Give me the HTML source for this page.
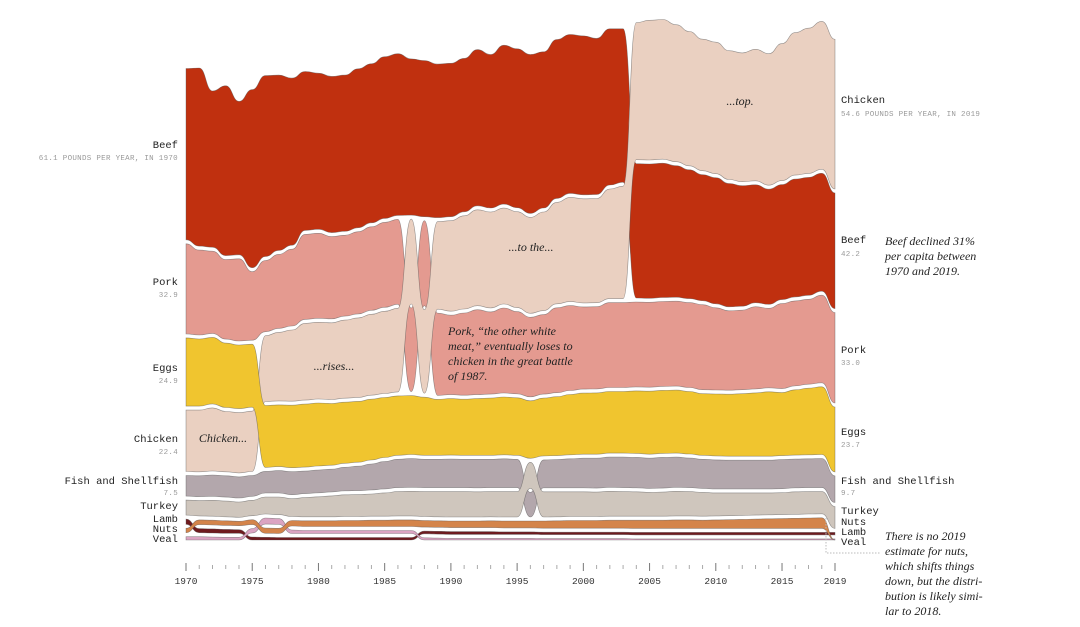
<!DOCTYPE html>
<html><head><meta charset="utf-8">
<style>
html,body{margin:0;padding:0;background:#fff;}
svg{display:block;}
.lab{font-family:"Liberation Mono","DejaVu Sans Mono",monospace;font-size:10.5px;fill:#222;}
.sub{font-family:"Liberation Mono","DejaVu Sans Mono",monospace;font-size:7.5px;fill:#999;letter-spacing:.3px;}
.ann{font-family:"Liberation Serif","DejaVu Serif",serif;font-style:italic;font-size:12px;fill:#222;}
.tick{font-family:"Liberation Mono","DejaVu Sans Mono",monospace;font-size:9.5px;fill:#333;}
</style></head>
<body>
<svg id="chart" width="1080" height="627" viewBox="0 0 1080 627">
<g id="bands"></g>
<g id="axis"></g>
<g>
<text class="lab" x="178" y="148" text-anchor="end">Beef</text>
<text class="sub" x="178" y="160" text-anchor="end">61.1 POUNDS PER YEAR, IN 1970</text>
<text class="lab" x="178" y="285" text-anchor="end">Pork</text>
<text class="sub" x="178" y="297" text-anchor="end">32.9</text>
<text class="lab" x="178" y="371" text-anchor="end">Eggs</text>
<text class="sub" x="178" y="383" text-anchor="end">24.9</text>
<text class="lab" x="178" y="442" text-anchor="end">Chicken</text>
<text class="sub" x="178" y="454" text-anchor="end">22.4</text>
<text class="lab" x="178" y="484" text-anchor="end">Fish and Shellfish</text>
<text class="sub" x="178" y="495" text-anchor="end">7.5</text>
<text class="lab" x="178" y="509" text-anchor="end">Turkey</text>
<text class="lab" x="178" y="522" text-anchor="end">Lamb</text>
<text class="lab" x="178" y="532" text-anchor="end">Nuts</text>
<text class="lab" x="178" y="542" text-anchor="end">Veal</text>
</g>
<g>
<text class="lab" x="841" y="103">Chicken</text>
<text class="sub" x="841" y="116">54.6 POUNDS PER YEAR, IN 2019</text>
<text class="lab" x="841" y="243">Beef</text>
<text class="sub" x="841" y="256">42.2</text>
<text class="lab" x="841" y="353">Pork</text>
<text class="sub" x="841" y="365">33.0</text>
<text class="lab" x="841" y="435">Eggs</text>
<text class="sub" x="841" y="447">23.7</text>
<text class="lab" x="841" y="484">Fish and Shellfish</text>
<text class="sub" x="841" y="495">9.7</text>
<text class="lab" x="841" y="514">Turkey</text>
<text class="lab" x="841" y="525">Nuts</text>
<text class="lab" x="841" y="535">Lamb</text>
<text class="lab" x="841" y="545">Veal</text>
</g>
<g>
<text class="ann" x="223" y="442" text-anchor="middle">Chicken...</text>
<text class="ann" x="334" y="370" text-anchor="middle">...rises...</text>
<text class="ann" x="531" y="251" text-anchor="middle">...to the...</text>
<text class="ann" x="740" y="105" text-anchor="middle">...top.</text>
<text class="ann" x="448" y="335"><tspan x="448">Pork, “the other white</tspan><tspan x="448" dy="15">meat,” eventually loses to</tspan><tspan x="448" dy="15">chicken in the great battle</tspan><tspan x="448" dy="15">of 1987.</tspan></text>
<text class="ann" x="885" y="245"><tspan x="885">Beef declined 31%</tspan><tspan x="885" dy="15">per capita between</tspan><tspan x="885" dy="15">1970 and 2019.</tspan></text>
<text class="ann" x="885" y="540"><tspan x="885">There is no 2019</tspan><tspan x="885" dy="15">estimate for nuts,</tspan><tspan x="885" dy="15">which shifts things</tspan><tspan x="885" dy="15">down, but the distri-</tspan><tspan x="885" dy="15">bution is likely simi-</tspan><tspan x="885" dy="15">lar to 2018.</tspan></text>
<path d="M826 518 V553 H880" fill="none" stroke="#bbb" stroke-width="1" stroke-dasharray="1.5 1.5"/>
</g>
</svg>
<script>
const years = [];
for (let y = 1970; y <= 2019; y++) years.push(y);
const beef = [62.5,65,57,62,56,65,66,64,61,58,57,57,57,58,58,59,59,57,57,56,56,56,57,56,58,58,58,57,58,58,58,57,57,56,49,49,49,48,47,46,46,45,44,43,42,42,43,43,43,42.2];
const pork = [32.9,31,30,29,30,25,26,27,28,31,31,30,29.5,30,30.5,31,31,30.5,31,30,29,30,31,30,31,30,29,29,31,31,30,30,31,31,31,31,31,31,31,31,30,29,29,30,29,31,31,31,32,33.0];
const chicken = [22.4,22.5,23,22,22,22,24,25,26,28,28,28,28.5,29,29.5,30,30.5,31,30.5,32,33,34,35,35,35,35,35,36,37,38,38,38,40,41,50,51,51,50,49,48,48,47,47,48,48,50,52,53,54,54.6];
const eggs = [24.9,24.5,24.3,23.5,23.2,23,22.6,22.5,22.8,23,23,22.5,22.3,22.2,22.2,21.9,21.7,21.5,21.2,20.4,20.6,20.5,20.7,20.9,21.1,21,21,21.1,21.5,22,22.3,22.4,22.5,22.5,22.8,23,23,23,22.8,22.5,22.6,22.6,22.8,23.1,23.5,23,23.8,24.3,24.7,23.7];
const fish = [7.5,7.6,7.8,7.8,7.7,7.6,7.9,8.2,8.4,8.2,8.3,8.3,8.6,8.9,9.5,10.0,10.3,10.5,10.3,10.3,10.4,10.3,10.4,10.3,10.5,10.3,9.0,10.2,10.3,10.6,10.8,10.9,11.0,11.1,11.1,11.0,11.2,11.0,10.8,10.6,10.6,10.5,10.5,10.5,10.5,10.6,10.5,10.5,10.6,9.7];
const turkey = [5.5,5.6,5.8,5.7,5.6,5.6,6.2,6.4,6.5,7.0,7.3,7.6,7.9,8.0,8.1,8.5,8.9,9.0,9.1,9.2,9.3,9.3,9.2,9.2,9.3,9.3,9.5,9.2,9.1,9.0,9.0,8.9,9.1,9.0,8.9,8.7,8.8,9.0,8.9,8.7,8.4,8.3,8.2,8.1,8.0,8.0,8.2,8.2,8.1,8.0];
const lamb = [1.9,1.5,1.5,1.4,1.3,1.1,1.0,0.9,0.9,0.9,0.9,0.9,0.9,0.9,0.9,0.9,0.9,0.9,1.0,1.0,1.0,1.0,1.0,1.0,0.9,0.9,0.9,0.9,0.9,0.9,0.9,0.9,0.9,0.9,0.9,0.9,0.9,0.9,0.9,0.9,0.9,0.9,0.9,0.9,0.9,0.9,0.9,0.9,0.9,0.9];
const veal = [1.2,1.2,1.1,1.0,1.0,1.6,2.2,2.1,1.3,1.1,1.1,1.1,1.1,1.1,1.1,1.1,1.1,1.1,0.8,0.7,0.6,0.6,0.6,0.6,0.6,0.6,0.6,0.5,0.5,0.5,0.5,0.5,0.5,0.5,0.4,0.4,0.4,0.4,0.4,0.4,0.4,0.4,0.4,0.4,0.4,0.4,0.4,0.4,0.4,0.4];
const nuts = [1.6,1.7,1.7,1.7,1.6,1.8,1.9,1.9,2.0,2.1,2.1,2.1,2.2,2.2,2.3,2.3,2.4,2.4,2.4,2.4,2.4,2.4,2.4,2.5,2.5,2.5,2.5,2.6,2.7,2.8,2.8,2.8,2.9,2.9,3.0,3.0,3.0,3.1,3.1,3.0,3.1,3.2,3.3,3.4,3.5,3.6,3.7,3.8,3.9,0];
const seriesNames = ["beef","pork","chicken","eggs","fish","turkey","lamb","veal","nuts"];
const seriesValues = [beef,pork,chicken,eggs,fish,turkey,lamb,veal,nuts];
const seriesColors = ["#c0300f","#e49a90","#ead0c1","#f0c52f","#b3a7ac","#cfc6bd","#6e1a1e","#dba4c2","#d4844a"];
const tickYears = [1970,1975,1980,1985,1990,1995,2000,2005,2010,2015,2019];

const X0 = 186, X1 = 835, BASE = 540, SCALE = 2.74, GAP = 4;
const xScale = yr => X0 + (yr - years[0]) / (years[years.length-1] - years[0]) * (X1 - X0);
const NS = "http://www.w3.org/2000/svg";

const tops = seriesValues.map(() => []), bots = seriesValues.map(() => []);
years.forEach((yr, i) => {
  const idx = seriesValues.map((s, k) => k).sort((a, b) => seriesValues[a][i] - seriesValues[b][i]);
  let y = BASE;
  idx.forEach(k => {
    const v = seriesValues[k][i];
    bots[k][i] = y;
    y -= v * SCALE;
    tops[k][i] = y;
    if (v > 0) y -= GAP;
  });
});

function curve(pts) {
  let d = "";
  for (let i = 1; i < pts.length; i++) {
    const [xa, ya] = pts[i-1], [xb, yb] = pts[i];
    const xm = (xa + xb) / 2;
    d += ` C${xm.toFixed(1)},${ya.toFixed(1)} ${xm.toFixed(1)},${yb.toFixed(1)} ${xb.toFixed(1)},${yb.toFixed(1)}`;
  }
  return d;
}
const bandsG = document.getElementById("bands");
seriesValues.forEach((s, k) => {
  const topPts = years.map((yr, i) => [xScale(yr), tops[k][i]]);
  const botPts = years.map((yr, i) => [xScale(yr), bots[k][i]]).reverse();
  const d = `M${topPts[0][0]},${topPts[0][1].toFixed(1)}` + curve(topPts) +
            ` L${botPts[0][0]},${botPts[0][1].toFixed(1)}` + curve(botPts) + " Z";
  const p = document.createElementNS(NS, "path");
  p.setAttribute("d", d);
  p.setAttribute("fill", seriesColors[k]);
  p.setAttribute("stroke", "#555");
  p.setAttribute("stroke-width", "0.6");
  p.setAttribute("stroke-opacity", "0.6");
  
  
  bandsG.appendChild(p);
});

const axisG = document.getElementById("axis");
years.forEach(yr => {
  const major = tickYears.includes(yr);
  const t = document.createElementNS(NS, "line");
  const x = xScale(yr);
  t.setAttribute("x1", x); t.setAttribute("x2", x);
  t.setAttribute("y1", major ? 563 : 565); t.setAttribute("y2", major ? 571 : 569);
  t.setAttribute("stroke", major ? "#777" : "#aaa");
  t.setAttribute("stroke-width", "1");
  
  
  axisG.appendChild(t);
});
tickYears.forEach(yr => {
  const t = document.createElementNS(NS, "text");
  t.setAttribute("x", xScale(yr)); t.setAttribute("y", 584);
  t.setAttribute("text-anchor", "middle");
  t.setAttribute("class", "tick");
  t.textContent = yr;
  
  
  axisG.appendChild(t);
});
</script>
</body></html>
